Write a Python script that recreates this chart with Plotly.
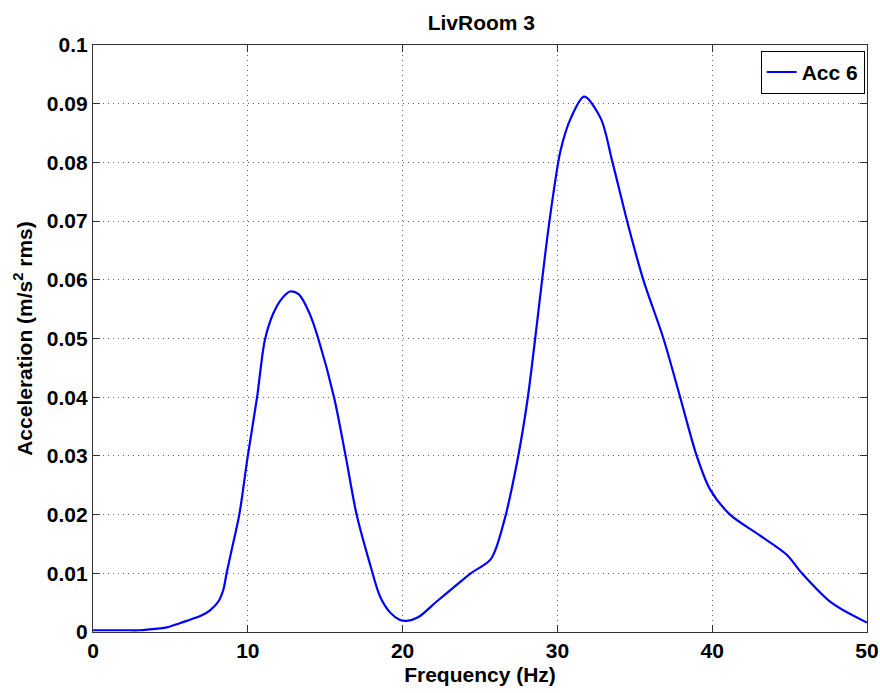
import plotly.graph_objects as go

freq = [0, 1, 2, 3, 3.5, 4.76, 5.6, 6.05, 7, 7.56, 8.1, 8.42, 8.63, 9.0, 9.45,
        10.0, 10.6, 11.1, 11.65, 12.2, 12.73, 13.3, 14.0, 14.55, 15.57, 16.32,
        17.03, 17.9, 18.55, 19.2, 19.8, 20.28, 21, 22.2, 23.3, 24.4, 25.7, 26.55,
        27.4, 28.06, 28.7, 29.24, 29.7, 30.2, 30.86, 31.73, 32.8, 33.56, 34.64,
        35.55, 36.85, 37.93, 39.0, 39.86, 41.15, 43.0, 44.8, 45.8, 47.7, 50]
acc = [0.0003, 0.0003, 0.0003, 0.0003, 0.0004, 0.0008, 0.0015, 0.0019, 0.0028, 0.0037,
       0.0052, 0.0072, 0.0100, 0.0145, 0.0200,
       0.0300, 0.0400, 0.0497, 0.0543, 0.0568, 0.0580, 0.0575, 0.0542, 0.0500, 0.0400,
       0.0300, 0.0200, 0.0115, 0.0060, 0.0033, 0.0021, 0.0019, 0.0025, 0.0052, 0.0076,
       0.0100, 0.0124, 0.0188, 0.0290, 0.0394, 0.0530, 0.0650, 0.0740, 0.0820, 0.0875,
       0.0912, 0.0875, 0.0800, 0.0686, 0.0600, 0.0500, 0.0400, 0.0300, 0.0243, 0.0200,
       0.0166, 0.0132, 0.0100, 0.0050, 0.0016]

x_ticks = [0, 10, 20, 30, 40, 50]
y_ticks = [0, 0.01, 0.02, 0.03, 0.04, 0.05, 0.06, 0.07, 0.08, 0.09, 0.1]
y_tick_text = ["0", "0.01", "0.02", "0.03", "0.04", "0.05", "0.06", "0.07", "0.08", "0.09", "0.1"]

FONT = "Liberation Sans"
fs = 21

fig = go.Figure()
fig.add_trace(go.Scatter(x=freq, y=acc, mode="lines", name="<b>Acc 6</b>",
                         line=dict(color="#0000FF", width=2.2, shape="spline", smoothing=0.85)))

axis_common = dict(showline=True, linecolor="#333333", linewidth=1.2, mirror="ticks",
                   ticks="inside", ticklen=7, tickcolor="#333333", tickwidth=1,
                   showgrid=True, gridcolor="rgba(0,0,0,0.6)", griddash="1px,4px", gridwidth=1,
                   zeroline=False, automargin=False,
                   tickfont=dict(family=FONT, size=fs, color="black"))

fig.update_xaxes(range=[0, 50], tickvals=x_ticks, ticktext=["<b>%d</b>" % t for t in x_ticks],
                 title=dict(text="<b>Frequency (Hz)</b>", font=dict(family=FONT, size=fs, color="black"),
                            standoff=6), **axis_common)
fig.update_yaxes(range=[0, 0.1], tickvals=y_ticks, ticktext=["<b>%s</b>" % t for t in y_tick_text],
                 title=dict(text="<b>Acceleration (m/s<sup>2</sup> rms)</b>",
                            font=dict(family=FONT, size=fs, color="black"), standoff=8),
                 **axis_common)

fig.update_layout(
    width=880, height=693,
    margin=dict(l=93, r=13, t=45, b=61),
    paper_bgcolor="white", plot_bgcolor="white",
    title=dict(text="<b>LivRoom 3</b>", x=0.547, xanchor="center", y=0.968, yanchor="middle",
               font=dict(family=FONT, size=fs, color="black")),
    showlegend=True,
    legend=dict(x=0.997, xanchor="right", y=0.99, yanchor="top", bordercolor="black", borderwidth=1,
                bgcolor="white", font=dict(family=FONT, size=fs, color="black"),
                itemwidth=30, tracegroupgap=0),
)

fig.write_html("out.html")
